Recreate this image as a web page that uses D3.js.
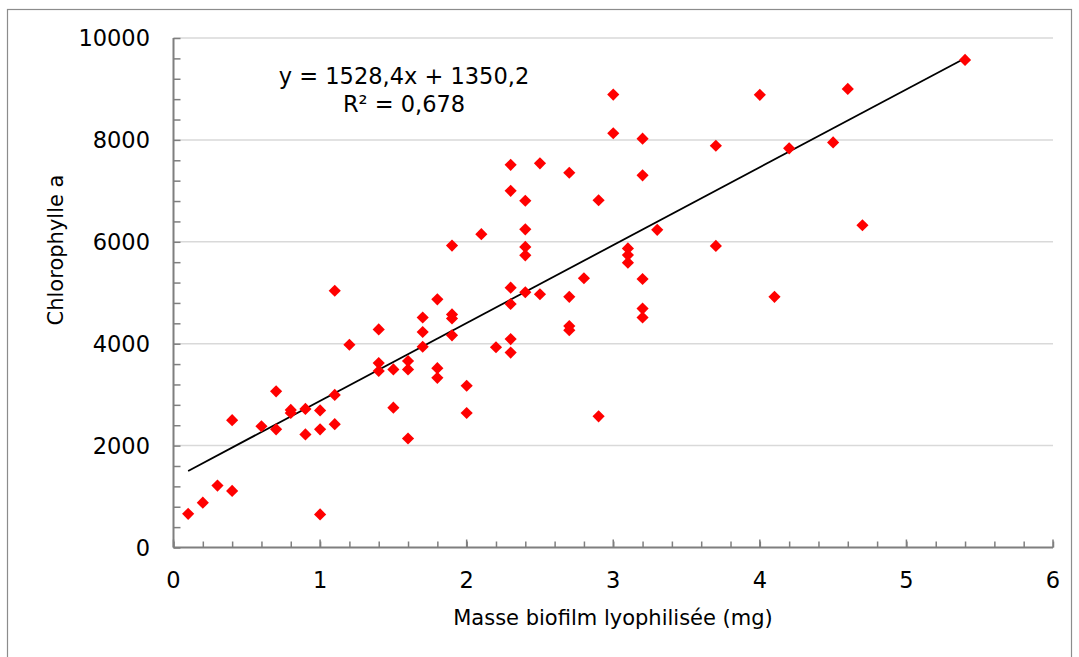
<!DOCTYPE html>
<html>
<head>
<meta charset="utf-8">
<script src="https://cdn.jsdelivr.net/npm/d3@7"></script>
<style>
  html, body { margin: 0; padding: 0; background: #fff; }
  svg { display: block; }
  text { font-family: "DejaVu Sans", sans-serif; fill: #000; }
</style>
</head>
<body>
<svg id="chart" width="1079" height="657"></svg>
<script>
// Dry biofilm mass (mg) and chlorophyll a, one entry per sample
const masse = [
  0.1, 0.2, 0.3, 0.4, 0.4, 0.6, 0.7, 0.7, 0.8, 0.8,
  0.9, 0.9, 1.0, 1.0, 1.0, 1.1, 1.1, 1.1, 1.2, 1.4,
  1.4, 1.4, 1.5, 1.5, 1.6, 1.6, 1.6, 1.7, 1.7, 1.7,
  1.8, 1.8, 1.8, 1.9, 1.9, 1.9, 1.9, 2.0, 2.0, 2.1,
  2.2, 2.3, 2.3, 2.3, 2.3, 2.3, 2.3, 2.4, 2.4, 2.4,
  2.4, 2.4, 2.5, 2.5, 2.7, 2.7, 2.7, 2.7, 2.8, 2.9,
  2.9, 3.0, 3.0, 3.1, 3.1, 3.1, 3.2, 3.2, 3.2, 3.2,
  3.2, 3.3, 3.7, 3.7, 4.0, 4.1, 4.2, 4.5, 4.6, 4.7,
  5.4
];
const chlorophylle = [
  660, 880, 1215, 1110, 2500, 2380, 2320, 3065, 2700, 2640,
  2720, 2220, 2690, 2320, 650, 2995, 2420, 5040, 3980, 4280,
  3620, 3465, 3495, 2745, 3660, 3495, 2140, 4515, 4230, 3940,
  4870, 3520, 3330, 5925, 4575, 4495, 4165, 3175, 2640, 6150,
  3930, 7510, 7000, 5100, 4780, 4090, 3825, 6805, 6245, 5900,
  5735, 5010, 7540, 4970, 7355, 4920, 4345, 4265, 5285, 6815,
  2575, 8890, 8130, 5870, 5740, 5590, 8025, 7305, 5270, 4690,
  4515, 6235, 7885, 5920, 8885, 4920, 7835, 7950, 9000, 6325,
  9570
];

// Linear trend reported on the chart
const pente = 1528.4;
const origine = 1350.2;
const equationLabel = "y = 1528,4x + 1350,2";
const r2Label = "R² = 0,678";

const xTicks = [0, 1, 2, 3, 4, 5, 6];
const yTicks = [0, 2000, 4000, 6000, 8000, 10000];
const xTitle = "Masse biofilm lyophilisée (mg)";
const yTitle = "Chlorophylle a";

const svg = d3.select("#chart");

// chart area border
svg.append("rect")
  .attr("x", 7.5).attr("y", 9.5)
  .attr("width", 1064).attr("height", 660)
  .attr("fill", "none").attr("stroke", "#8c8c8c").attr("stroke-width", 1.2);

const plot = { left: 173.5, right: 1053, top: 38, bottom: 547.5 };

const x = d3.scaleLinear().domain([0, 6]).range([plot.left, plot.right]);
const y = d3.scaleLinear().domain([0, 10000]).range([plot.bottom, plot.top]);

// horizontal gridlines
svg.append("g")
  .selectAll("line")
  .data(yTicks.filter(d => d > 0))
  .join("line")
  .attr("x1", plot.left).attr("x2", plot.right)
  .attr("y1", d => y(d)).attr("y2", d => y(d))
  .attr("stroke", "#d9d9d9").attr("stroke-width", 1.5);

// y axis: line, inside major/minor ticks, labels
const yAxis = svg.append("g").attr("transform", `translate(${plot.left},0)`);
yAxis.call(d3.axisRight(y).tickValues(d3.range(0, 10001, 400)).tickSize(7).tickFormat(""))
  .call(g => g.select(".domain").remove())
  .call(g => g.selectAll("line").attr("stroke", "#7f7f7f").attr("stroke-width", 1.5));
yAxis.append("line")
  .attr("x1", 0).attr("x2", 0).attr("y1", plot.top).attr("y2", plot.bottom)
  .attr("stroke", "#7f7f7f").attr("stroke-width", 2);
svg.append("g")
  .selectAll("text")
  .data(yTicks)
  .join("text")
  .attr("x", 150).attr("y", d => y(d))
  .attr("dy", "0.36em")
  .attr("text-anchor", "end")
  .attr("font-size", 22.5)
  .text(d => d);

// x axis: line, inside minor ticks and slightly longer major ticks, labels
const xAxis = svg.append("g").attr("transform", `translate(0,${plot.bottom})`);
xAxis.call(d3.axisTop(x).tickValues(d3.range(0, 30.5, 1).map(d => d / 5)).tickSize(6).tickFormat(""))
  .call(g => g.select(".domain").remove())
  .call(g => g.selectAll("line").attr("stroke", "#7f7f7f").attr("stroke-width", 1.5));
xAxis.selectAll(".major")
  .data(xTicks)
  .join("line")
  .attr("class", "major")
  .attr("x1", d => x(d)).attr("x2", d => x(d))
  .attr("y1", 0).attr("y2", -8)
  .attr("stroke", "#7f7f7f").attr("stroke-width", 1.5);
xAxis.append("line")
  .attr("x1", plot.left).attr("x2", plot.right).attr("y1", 0).attr("y2", 0)
  .attr("stroke", "#7f7f7f").attr("stroke-width", 2);
svg.append("g")
  .selectAll("text")
  .data(xTicks)
  .join("text")
  .attr("x", d => x(d)).attr("y", 580)
  .attr("dy", "0.36em")
  .attr("text-anchor", "middle")
  .attr("font-size", 22.5)
  .text(d => d);

// axis titles
svg.append("text")
  .attr("x", 613).attr("y", 617)
  .attr("dy", "0.36em")
  .attr("text-anchor", "middle")
  .attr("font-size", 21)
  .text(xTitle);
svg.append("text")
  .attr("transform", "translate(55,250) rotate(-90)")
  .attr("dy", "0.36em")
  .attr("text-anchor", "middle")
  .attr("font-size", 21)
  .text(yTitle);

// trend line over the observed mass range
const [xmin, xmax] = d3.extent(masse);
svg.append("line")
  .attr("x1", x(xmin)).attr("y1", y(pente * xmin + origine))
  .attr("x2", x(xmax)).attr("y2", y(pente * xmax + origine))
  .attr("stroke", "#000").attr("stroke-width", 1.8);

// data markers (diamonds)
const diamond = d3.symbol().type(d3.symbolSquare).size(74);
svg.append("g")
  .selectAll("path")
  .data(masse.map((m, i) => [m, chlorophylle[i]]))
  .join("path")
  .attr("d", diamond)
  .attr("transform", d => `translate(${x(d[0])},${y(d[1])}) rotate(45)`)
  .attr("fill", "#ff0000");

// equation and R² labels
svg.append("text")
  .attr("x", 404).attr("y", 76)
  .attr("dy", "0.36em")
  .attr("text-anchor", "middle")
  .attr("font-size", 22.5)
  .text(equationLabel);
svg.append("text")
  .attr("x", 404).attr("y", 104)
  .attr("dy", "0.36em")
  .attr("text-anchor", "middle")
  .attr("font-size", 22.5)
  .text(r2Label);
</script>
</body>
</html>
